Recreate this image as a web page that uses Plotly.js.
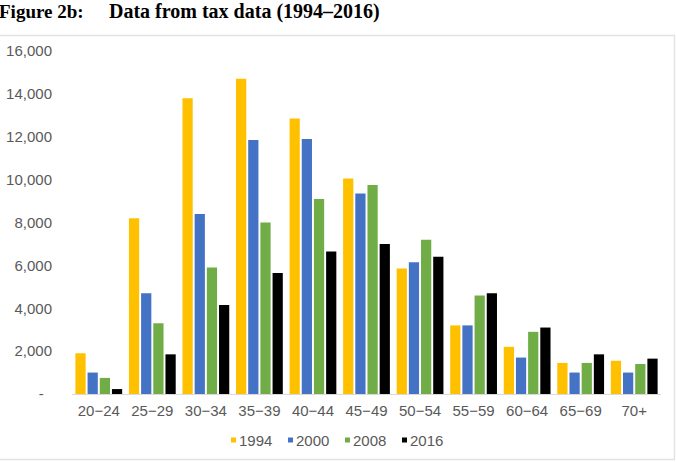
<!DOCTYPE html>
<html>
<head>
<meta charset="utf-8">
<script src="https://cdn.plot.ly/plotly-3.0.1.min.js"></script>
<style>
  html, body { margin: 0; padding: 0; background: #fff; }
  #chart { width: 676px; height: 462px; }
</style>
</head>
<body>
<div id="chart"></div>
<script>
// Age groups on the category axis
const categories = ['20−24', '25−29', '30−34', '35−39', '40−44', '45−49',
                    '50−54', '55−59', '60−64', '65−69', '70+'];

// One series per tax year
const years = ['1994', '2000', '2008', '2016'];
const v1994 = [1900, 8200, 13800, 14700, 12850, 10050, 5850, 3200, 2200, 1450, 1550];
const v2000 = [1000, 4700, 8400, 11850, 11900, 9350, 6150, 3200, 1700, 1000, 1000];
const v2008 = [750, 3300, 5900, 8000, 9100, 9750, 7200, 4600, 2900, 1450, 1400];
const v2016 = [230, 1850, 4150, 5650, 6650, 7000, 6400, 4700, 3100, 1850, 1650];

// Value-axis ticks
const yTickVals = [0, 2000, 4000, 6000, 8000, 10000, 12000, 14000, 16000];
const yTickText = ['-\u00a0\u00a0', '2,000', '4,000', '6,000', '8,000', '10,000', '12,000', '14,000', '16,000'];

const seriesValues = [v1994, v2000, v2008, v2016];
const seriesColors = ['#FFC000', '#4472C4', '#70AD47', '#000000'];

// Plot-area geometry (pixels) used to place the frame, heading and key
const W = 676, H = 462;
const M = { l: 72, r: 15, t: 51, b: 68 };
const plotW = W - M.l - M.r, plotH = H - M.t - M.b;
const px = x => (x - M.l) / plotW;
const py = y => (H - M.b - y) / plotH;

const traces = years.map((yr, i) => ({
  type: 'bar',
  name: yr,
  x: categories,
  y: seriesValues[i],
  marker: { color: seriesColors[i], line: { width: 0 } },
  showlegend: false,
  hoverinfo: 'x+y+name'
}));

const textFont = { family: 'Liberation Sans, Arial, sans-serif', size: 15, color: '#595959' };
const titleFont = { family: 'Liberation Serif, Times New Roman, serif', size: 20, color: '#000', weight: 700 };
const labelFont = Object.assign({}, titleFont, { size: 19 });

const annotations = [
  { text: 'Figure 2b:', xref: 'paper', yref: 'paper', x: px(-3), y: py(11),
    xanchor: 'left', yanchor: 'middle', showarrow: false, font: labelFont },
  { text: 'Data from tax data (1994–2016)', xref: 'paper', yref: 'paper', x: px(107), y: py(11),
    xanchor: 'left', yanchor: 'middle', showarrow: false, font: titleFont }
];

const shapes = [
  // chart frame
  { type: 'rect', xref: 'paper', yref: 'paper', x0: px(-6), x1: px(674.5), y0: py(459.5), y1: py(35.5),
    line: { color: '#e2e2e2', width: 1.5 }, fillcolor: 'rgba(0,0,0,0)', layer: 'below' }
];

// Key below the axis: small square followed by the year
const keyStart = 231, keyStep = 57, keyY = 440, sq = 5;
years.forEach((yr, i) => {
  const x0 = keyStart + i * keyStep;
  shapes.push({ type: 'rect', xref: 'paper', yref: 'paper',
    x0: px(x0), x1: px(x0 + sq), y0: py(keyY + sq / 2), y1: py(keyY - sq / 2),
    line: { width: 0 }, fillcolor: seriesColors[i] });
  annotations.push({ text: yr, xref: 'paper', yref: 'paper', x: px(x0 + sq + 1), y: py(keyY),
    xanchor: 'left', yanchor: 'middle', showarrow: false, font: textFont });
});

const layout = {
  width: W, height: H,
  margin: M,
  paper_bgcolor: '#fff', plot_bgcolor: '#fff',
  barmode: 'group', bargap: 0.09, bargroupgap: 0.16,
  xaxis: {
    type: 'category',
    showline: true, linecolor: '#d9d9d9', linewidth: 1,
    showgrid: false, zeroline: false,
    ticks: 'outside', ticklen: 3, tickcolor: 'rgba(0,0,0,0)',
    tickfont: textFont
  },
  yaxis: {
    range: [0, 16000],
    tickvals: yTickVals, ticktext: yTickText,
    showline: false, showgrid: false, zeroline: false,
    ticks: 'outside', ticklen: 16, tickcolor: 'rgba(0,0,0,0)',
    tickfont: textFont
  },
  showlegend: false,
  annotations: annotations,
  shapes: shapes
};

Plotly.newPlot('chart', traces, layout, { displayModeBar: false, staticPlot: true });
</script>
</body>
</html>
